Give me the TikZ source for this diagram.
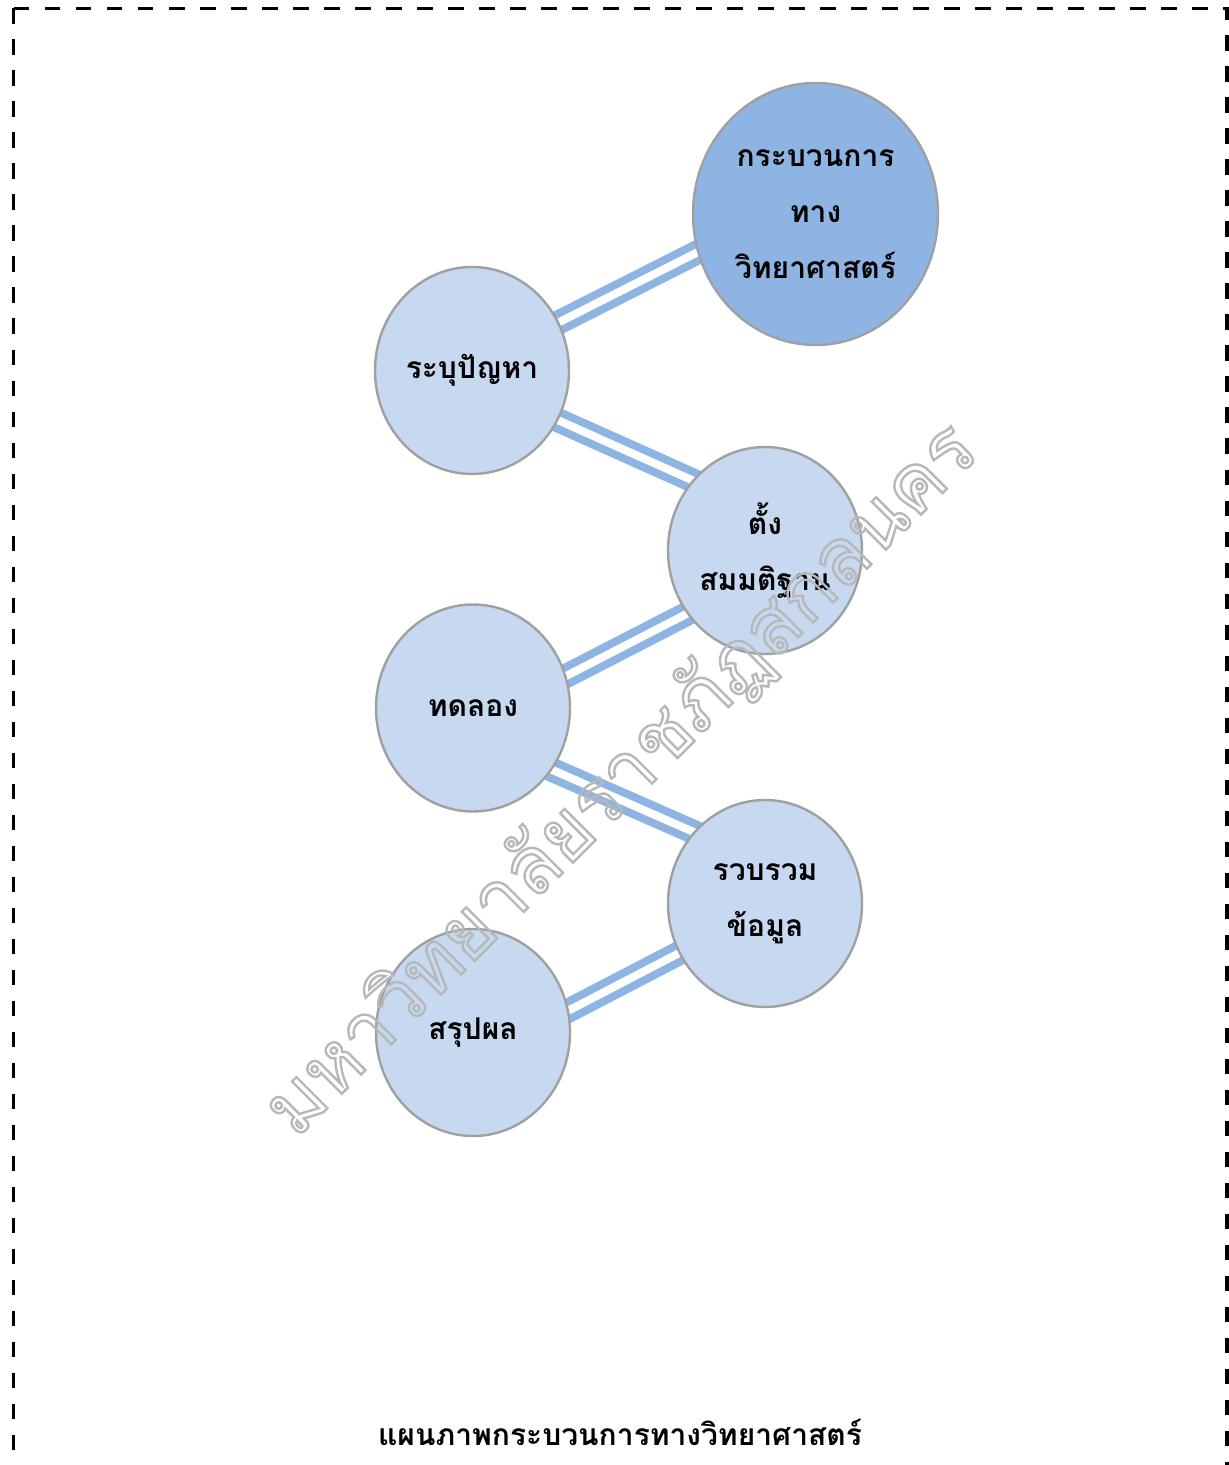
\documentclass[tikz,border=0pt]{standalone}
\usepackage{fontspec}
\newfontfamily\thaifont[Script=Thai]{Loma}
\usetikzlibrary{shapes.geometric}
\usetikzlibrary{backgrounds}
\definecolor{stagefill}{RGB}{198,217,241}
\definecolor{mainfill}{RGB}{142,180,227}
\definecolor{linkblue}{RGB}{142,180,227}
\definecolor{rimgray}{RGB}{160,160,160}
\tikzstyle{stage} = [ellipse, draw=rimgray, line width=1.2pt, fill=stagefill, minimum width=97pt, minimum height=103.5pt, inner sep=0pt, align=center, font=\thaifont\bfseries\fontsize{15}{28}\selectfont]
\tikzstyle{mainstage} = [stage, fill=mainfill, minimum width=122.5pt, minimum height=131pt]
\tikzstyle{link} = [draw=linkblue, line width=4pt, double=white, double distance=4pt, shorten <=-6pt, shorten >=-6pt]
\tikzstyle{pageframe} = [line width=1.8pt, dash pattern=on 7.75pt off 7.75pt]
\tikzstyle{stamp} = [text=black!28, rotate=45, font=\thaifont\fontsize{39.5}{46}\selectfont]
\newcommand{\outlined}[1]{\special{pdf:literal direct 1 Tr 1.2 w}#1\special{pdf:literal direct 0 Tr}}

\begin{document}
\begin{tikzpicture}[x=0.5pt,y=-0.5pt]
	\useasboundingbox (0,0) rectangle (1229,1465);
	\draw[pageframe] (13.5,8.5) rectangle (1227,1500);
	% stages
	\node[mainstage] (sci) at (815.5,214) {กระบวนการ\\ทาง\\วิทยาศาสตร์};
	\node[stage] (prob) at (472,370.5) {ระบุปัญหา};
	\node[stage] (hyp) at (765,550.5) {ตั้ง\\สมมติฐาน};
	\node[stage] (test) at (473,708) {ทดลอง};
	\node[stage] (data) at (765,903.5) {รวบรวม\\ข้อมูล};
	\node[stage] (sum) at (473,1032.5) {สรุปผล};
	\begin{scope}[on background layer]
	\draw[link] (prob.29) -- (sci.198);
	\draw[link] (prob.-30) -- (hyp.136);
	\draw[link] (test.19) -- (hyp.219);
	\draw[link] (test.-38) -- (data.135);
	\draw[link] (sum.13) -- (data.210);
	\end{scope}
	% watermark
	\node[stamp] (stamp) at (622,780) {\outlined{มหาวิทยาลัยราชภัฏสกลนคร}};
	\node[font=\thaifont\bfseries\fontsize{15}{18}\selectfont] (title) at (620,1432) {แผนภาพกระบวนการทางวิทยาศาสตร์};
\end{tikzpicture}
\end{document}
